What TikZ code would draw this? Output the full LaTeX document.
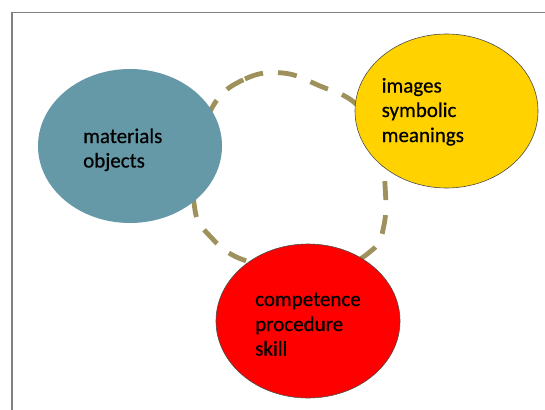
\documentclass[tikz,border=0pt]{standalone}
\usepackage{fontspec}
\setmainfont{Carlito}
\newfontfamily\lblfont{Carlito}[FakeBold=0.5]
\usetikzlibrary{shapes.geometric}
\definecolor{blueT}{RGB}{101,153,168}
\definecolor{yellowT}{RGB}{255,210,0}
\definecolor{redT}{RGB}{255,0,0}
\definecolor{loopC}{RGB}{158,145,92}
\definecolor{frameC}{RGB}{128,128,128}
\begin{document}
\begin{tikzpicture}[x=1pt,y=-1pt,
  blob/.style={ellipse, inner sep=0pt, minimum width=184pt, minimum height=154pt},
  lbl/.style={anchor=base west, inner sep=0pt, font=\lblfont\fontsize{21}{25}\selectfont}]
\useasboundingbox (0,0) rectangle (545,409);
\fill[white] (0,0) rectangle (545,409);
\draw[frameC, line width=1.5pt] (12,430) -- (12,12.5) -- (560,12.5);
% dashed loop
\draw[loopC, line width=4.8pt, dash pattern=on 19pt off 15pt]
  plot[smooth cycle, tension=0.7] coordinates {
   (213,106) (245,79) (283,73) (320,86) (356,104) (379,140) (385,185)
   (384,225) (371,251) (330,268) (250,262) (207,233) (194,203) (197,160)};
% ellipses
\node[blob, fill=blueT] (blue) at (130,146) {};
\node[blob, fill=yellowT, draw=black!70, line width=0.6pt, minimum width=183pt] (yellow) at (446.5,111) {};
\node[blob, fill=redT, draw=black!70, line width=0.6pt] (red) at (308,321) {};
% labels
\node[lbl] (t1) at (83,143) {materials};
\node[lbl] (t2) at (83,167.5) {objects};
\node[lbl] (t3) at (381.5,92.5) {images};
\node[lbl] (t4) at (381.5,117) {symbolic};
\node[lbl] (t5) at (381.5,142) {meanings};
\node[lbl] (t6) at (255,306) {competence};
\node[lbl] (t7) at (255,331) {procedure};
\node[lbl] (t8) at (255,355.5) {skill};
\end{tikzpicture}
\end{document}
